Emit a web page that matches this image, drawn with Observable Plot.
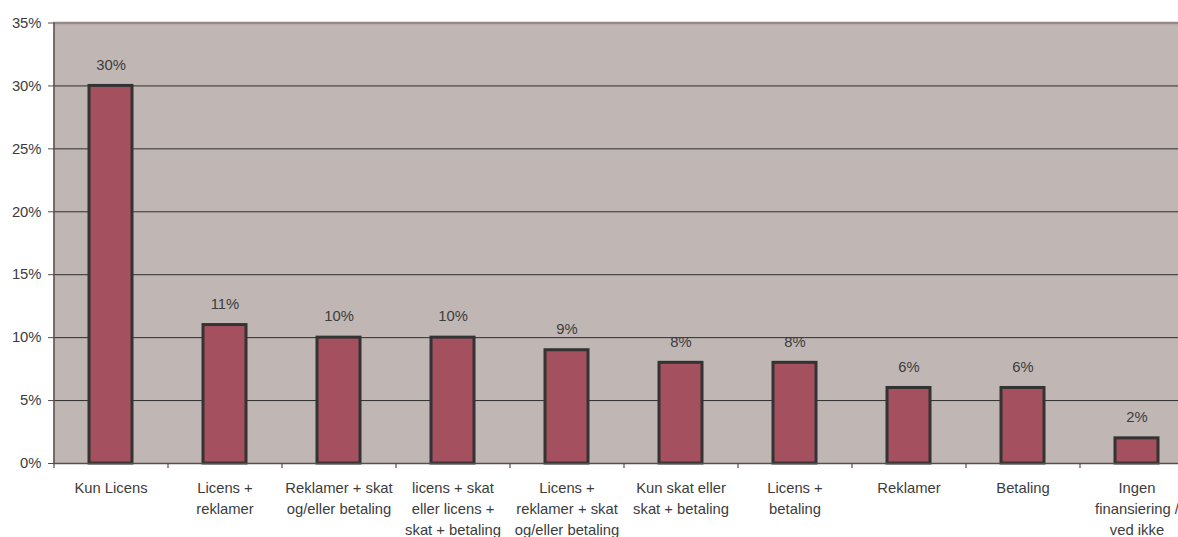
<!DOCTYPE html>
<html>
<head>
<meta charset="utf-8">
<script src="https://cdn.jsdelivr.net/npm/d3@7"></script>
<script src="https://cdn.jsdelivr.net/npm/@observablehq/plot@0.6"></script>
<style>
  html, body { margin: 0; padding: 0; background: #fff; overflow: hidden; }
  #wrap { width: 1178px; height: 537px; overflow: hidden; }
</style>
</head>
<body>
<div id="wrap"></div>
<script>
const categories = [
  "Kun Licens",
  "Licens + reklamer",
  "Reklamer + skat og/eller betaling",
  "licens + skat eller licens + skat + betaling",
  "Licens + reklamer + skat og/eller betaling",
  "Kun skat eller skat + betaling",
  "Licens + betaling",
  "Reklamer",
  "Betaling",
  "Ingen finansiering / ved ikke"
];
const tickLabels = [
  "Kun Licens",
  "Licens +\nreklamer",
  "Reklamer + skat\nog/eller betaling",
  "licens + skat\neller licens +\nskat + betaling",
  "Licens +\nreklamer + skat\nog/eller betaling",
  "Kun skat eller\nskat + betaling",
  "Licens +\nbetaling",
  "Reklamer",
  "Betaling",
  "Ingen\nfinansiering /\nved ikke"
];
const values = [30, 11, 10, 10, 9, 8, 8, 6, 6, 2];
const yTicks = [0, 5, 10, 15, 20, 25, 30, 35];

const data = categories.map((c, i) => ({category: c, value: values[i]}));
const labelOf = new Map(categories.map((c, i) => [c, tickLabels[i]]));

const W = 1193, ML = 53, MR = 0;
const step = (W - ML - MR) / categories.length;

const chart = Plot.plot({
  width: W,
  height: 537,
  marginTop: 22.5,
  marginBottom: 74,
  marginLeft: ML,
  marginRight: MR,
  style: {
    fontFamily: "'Liberation Sans', Arial, sans-serif",
    fontSize: "14.8px",
    color: "#3c3c3c",
    background: "#fff",
    maxWidth: "none"
  },
  x: {domain: categories, paddingInner: 0.623, paddingOuter: 0.3115},
  y: {domain: [0, 35]},
  marks: [
    Plot.frame({fill: "#c0b7b5", stroke: null}),
    Plot.gridY(yTicks.filter(d => d > 0 && d < 35), {stroke: "#2e2e2e", strokeOpacity: 1, strokeWidth: 1}),
    Plot.ruleY([35], {stroke: "#9a8888", strokeWidth: 2.5}),
    Plot.barY(data, {x: "category", y: "value", fill: "#a5505f", stroke: "#333", strokeWidth: 3}),
    Plot.text(data, {x: "category", y: "value", text: d => d.value + "%", dy: -21, fill: "#3c3c3c", fontSize: 14.8}),
    Plot.ruleY([0], {stroke: "#5a4c4c", strokeWidth: 1.5}),
    Plot.ruleX(categories, {x: d => d, dx: -step / 2, y1: 0, y2: 0, insetBottom: -5, stroke: "#5a4c4c", strokeWidth: 1.2}),
    Plot.ruleX([categories[0]], {x: d => d, dx: -step / 2, y1: 0, y2: 35, stroke: "#5a4c4c", strokeWidth: 1.5}),
    Plot.axisY(yTicks, {tickSize: 5, tickPadding: 7, tickFormat: d => d + "%", stroke: "#5a4c4c", fill: "#3c3c3c", fontSize: 14.8, label: null}),
    Plot.axisX({tickSize: 0, tickPadding: 15, tickFormat: d => labelOf.get(d), lineHeight: 1.42, fill: "#3c3c3c", fontSize: 14.8, label: null})
  ]
});
document.getElementById("wrap").appendChild(chart);
</script>
</body>
</html>
